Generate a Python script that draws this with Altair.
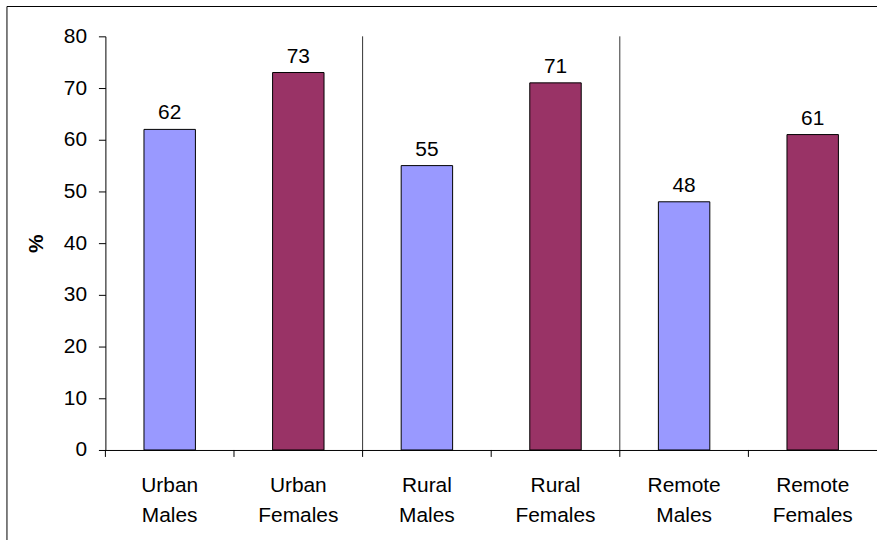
import altair as alt
import pandas as pd

categories = ["Urban Males", "Urban Females", "Rural Males", "Rural Females", "Remote Males", "Remote Females"]
values = [62, 73, 55, 71, 48, 61]
sexes = ["Males", "Females", "Males", "Females", "Males", "Females"]
separators = ["Rural Males", "Remote Males"]
y_ticks = [0, 10, 20, 30, 40, 50, 60, 70, 80]

df = pd.DataFrame({"cat": categories, "value": values, "sex": sexes})
sep_df = pd.DataFrame({"cat": separators})
tick_df = pd.DataFrame({"cat": categories})

FONT = "Liberation Sans, Arial, sans-serif"
FS = 21

x_scale = alt.Scale(domain=categories, paddingInner=0, paddingOuter=0)
y_scale = alt.Scale(domain=[0, 80], nice=False)

x_enc = alt.X(
    "cat:N", scale=x_scale, sort=categories, title=None,
    axis=alt.Axis(
        labelAngle=0, labelExpr="split(datum.label, ' ')", labelLineHeight=30,
        labelFontSize=FS, labelFont=FONT, labelColor="black", labelAlign="center",
        ticks=False, tickSize=0, domainColor="black",
        labelPadding=25, grid=False, labelBaseline="top",
    ),
)
y_enc = alt.Y(
    "value:Q", scale=y_scale, title="%",
    axis=alt.Axis(
        values=y_ticks, labelFontSize=FS, labelFont=FONT, labelColor="black",
        tickSize=7, tickColor="black", domainColor="black", labelPadding=12,
        gridColor="#707070", gridWidth=1, titleFont=FONT, titleFontSize=FS,
        titleFontWeight="bold", titleColor="black", titlePadding=17,
    ),
)

bars = alt.Chart(df).mark_bar(
    width=alt.RelativeBandSize(0.4), stroke="black", strokeWidth=1
).encode(
    x=x_enc,
    y=y_enc,
    color=alt.Color("sex:N", scale=alt.Scale(domain=["Males", "Females"], range=["#9999FF", "#993366"]), legend=None),
)

labels = alt.Chart(df).mark_text(
    dy=-10, baseline="alphabetic", fontSize=FS, font=FONT, color="black"
).encode(
    x=alt.X("cat:N", scale=x_scale, sort=categories),
    y=alt.Y("value:Q", scale=y_scale),
    text="value:Q",
)

seps = alt.Chart(sep_df).mark_rule(color="#333333", strokeWidth=1).encode(
    x=alt.X("cat:N", scale=x_scale, sort=categories, bandPosition=0),
    y=alt.datum(0),
    y2=alt.datum(80),
)

xticks = alt.Chart(tick_df).mark_rule(color="black", strokeWidth=1).encode(
    x=alt.X("cat:N", scale=x_scale, sort=categories, bandPosition=0),
    y=alt.value(416),
    y2=alt.value(423),
)

border = alt.Chart(alt.Data(values=[{"a": 1}])).mark_rect(
    fill=None, stroke="black", strokeWidth=1
).encode(
    x=alt.value(-99), x2=alt.value(900), y=alt.value(-30), y2=alt.value(600)
)

chart = alt.layer(seps, xticks, bars, labels, border).properties(
    width=776, height=416,
    autosize=alt.AutoSizeParams(type="none"),
    padding={"left": 106, "top": 35, "right": 0, "bottom": 89},
    background="white",
).configure_view(strokeWidth=0)

chart.save("out.html", embed_options={"renderer": "svg", "actions": False})
